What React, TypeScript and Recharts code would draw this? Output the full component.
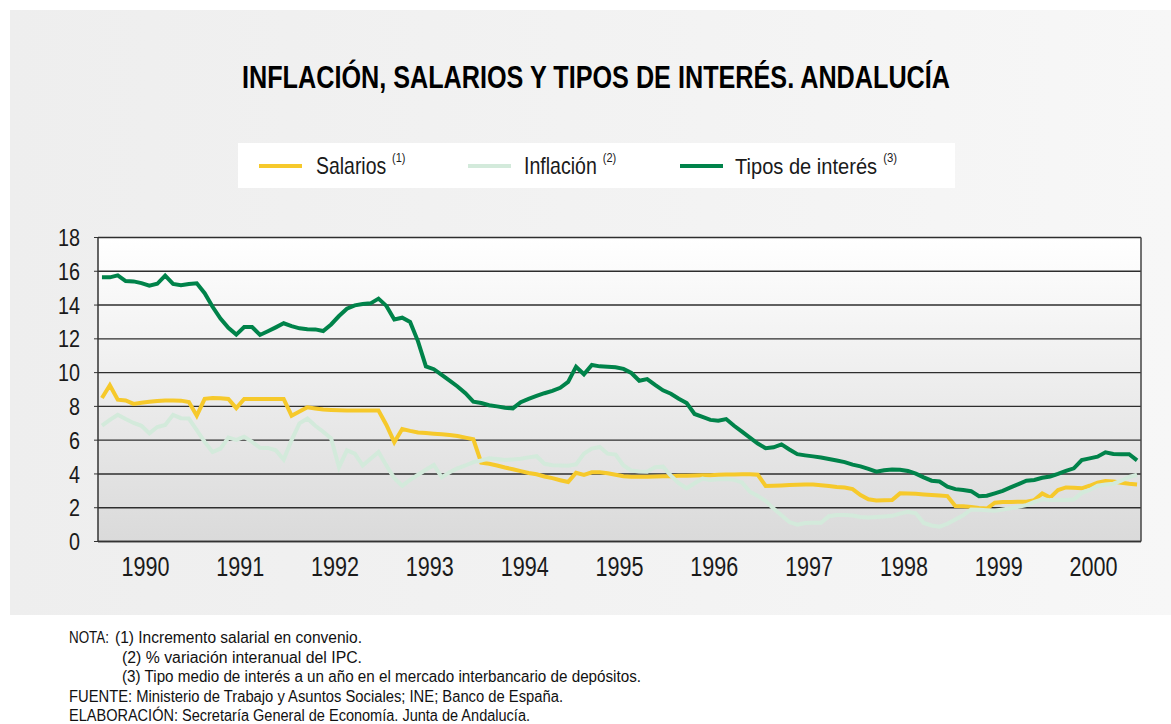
import React from 'react';
import { LineChart, Line, XAxis, YAxis, CartesianGrid, ReferenceLine } from 'recharts';

const years = ['1990', '1991', '1992', '1993', '1994', '1995', '1996', '1997', '1998', '1999', '2000'];
const yTicks = [0, 2, 4, 6, 8, 10, 12, 14, 16, 18];

const salarios = [
  8.5, 9.25, 8.4, 8.35, 8.15, 8.22, 8.28, 8.32, 8.35, 8.35, 8.34, 8.26,
  7.45, 8.45, 8.5, 8.48, 8.44, 7.9, 8.44, 8.44, 8.44, 8.44, 8.44, 8.44,
  7.45, 7.7, 7.95, 7.88, 7.82, 7.79, 7.77, 7.76, 7.75, 7.75, 7.75, 7.75,
  6.9, 5.88, 6.66, 6.55, 6.46, 6.42, 6.38, 6.35, 6.3, 6.25, 6.15, 6.05,
  4.67, 4.6, 4.5, 4.38, 4.28, 4.17, 4.06, 3.98, 3.85, 3.75, 3.63, 3.52,
  4.07, 3.94, 4.1, 4.1, 4.04, 3.95, 3.86, 3.84, 3.84, 3.84, 3.85, 3.86,
  3.87, 3.89, 3.9, 3.91, 3.92, 3.93, 3.95, 3.96, 3.97, 3.98, 3.98, 3.95,
  3.29, 3.3, 3.32, 3.34, 3.36, 3.38, 3.37, 3.33, 3.28, 3.23, 3.2, 3.1,
  2.75, 2.5, 2.43, 2.44, 2.46, 2.85, 2.84, 2.82, 2.79, 2.76, 2.72, 2.69,
  2.1, 2.08, 2.05, 1.98, 1.95, 2.3, 2.34, 2.34, 2.35, 2.35, 2.45, 2.85,
  2.6, 3.05, 3.2, 3.18, 3.15, 3.3, 3.48, 3.58, 3.55, 3.48, 3.42, 3.38,
];

const inflacion = [
  6.86, 7.2, 7.5, 7.25, 7.02, 6.85, 6.4, 6.78, 6.9, 7.5, 7.3, 7.28,
  6.6, 5.9, 5.3, 5.5, 6.15, 6.02, 6.2, 5.9, 5.55, 5.54, 5.4, 4.85,
  6.0, 7.0, 7.28, 6.85, 6.5, 6.1, 4.4, 5.4, 5.2, 4.5, 4.9, 5.3,
  4.5, 3.75, 3.3, 3.65, 3.95, 4.25, 4.53, 3.8, 4.1, 4.33, 4.5, 4.7,
  4.8, 4.93, 4.88, 4.83, 4.86, 4.9, 4.98, 5.05, 4.6, 4.52, 4.5, 4.49,
  4.57, 5.2, 5.5, 5.6, 5.2, 5.15, 4.5, 4.2, 4.15, 4.13, 4.4, 4.43,
  3.9, 3.45, 3.15, 3.45, 3.72, 3.64, 3.68, 3.7, 3.65, 3.5, 2.95, 2.7,
  2.4, 1.95, 1.55, 1.15, 1.0, 1.1, 1.11, 1.11, 1.5, 1.57, 1.57, 1.54,
  1.45, 1.42, 1.45, 1.48, 1.52, 1.65, 1.76, 1.67, 1.1, 0.95, 0.88, 1.05,
  1.3, 1.55, 1.9, 1.88, 1.85, 1.82, 1.9, 1.97, 2.05, 2.15, 2.35, 2.5,
  2.45, 2.45, 2.46, 2.48, 2.88, 3.05, 3.3, 3.38, 3.42, 3.6, 3.82, 3.95,
];

const tipos = [
  15.64, 15.64, 15.76, 15.42, 15.4, 15.3, 15.15, 15.26, 15.74, 15.25, 15.17, 15.25,
  15.29, 14.7, 13.9, 13.2, 12.65, 12.25, 12.7, 12.7, 12.23, 12.45, 12.68, 12.92,
  12.75, 12.62, 12.57, 12.56, 12.46, 12.85, 13.35, 13.78, 13.98, 14.06, 14.1, 14.38,
  13.95, 13.15, 13.25, 13.0, 11.85, 10.37, 10.2, 9.86, 9.52, 9.18, 8.78, 8.28,
  8.2, 8.07, 8.0, 7.92, 7.88, 8.25, 8.45, 8.62, 8.78, 8.92, 9.1, 9.45,
  10.35, 9.9, 10.45, 10.37, 10.34, 10.32, 10.22, 9.98, 9.52, 9.62, 9.27, 8.95,
  8.75, 8.45, 8.2, 7.55, 7.38, 7.2, 7.15, 7.25, 6.85, 6.5, 6.15, 5.8,
  5.52, 5.58, 5.75, 5.45, 5.17, 5.1, 5.04, 4.97, 4.88, 4.8, 4.7, 4.55,
  4.45, 4.3, 4.13, 4.22, 4.26, 4.25, 4.18, 4.02, 3.8, 3.6, 3.55, 3.25,
  3.1, 3.05, 2.98, 2.68, 2.71, 2.85, 3.0, 3.2, 3.4, 3.6, 3.64, 3.77,
  3.85, 4.0, 4.18, 4.33, 4.82, 4.92, 5.02, 5.28, 5.18, 5.17, 5.17, 4.8,
];

const seriesNames = ['Salarios', 'Inflación', 'Tipos de interés'];
const seriesNotes = ['(1)', '(2)', '(3)'];
const colors = ['#F6C92B', '#D3EADB', '#00834A'];

const noteLines = [
  'NOTA:',
  '(1) Incremento salarial en convenio.',
  '(2) % variación interanual del IPC.',
  '(3) Tipo medio de interés a un año en el mercado interbancario de depósitos.',
  'FUENTE: Ministerio de Trabajo y Asuntos Sociales; INE; Banco de España.',
  'ELABORACIÓN: Secretaría General de Economía. Junta de Andalucía.',
];

const MONTHS = years.length * 12;
const data = salarios.map((s, i) => ({ m: i + 0.5, salarios: s, inflacion: inflacion[i], tipos: tipos[i] }));
const yearBounds = years.map((_, i) => i * 12).concat([MONTHS]);
const yearMids = years.map((_, i) => i * 12 + 6);

const FONT = "'Liberation Sans', Arial, sans-serif";

const YTick = (props: any) => {
  const { x, y, payload } = props;
  const s = String(payload.value);
  return (
    <text x={x} y={y} dy="0.36em" textAnchor="end" fontSize={24} fontFamily={FONT} fill="#1a1a1a"
      textLength={s.length * 11} lengthAdjust="spacingAndGlyphs">{s}</text>
  );
};

const XTick = (props: any) => {
  const { x, y, payload } = props;
  const s = years[Math.round((payload.value - 6) / 12)] ?? '';
  return (
    <text x={x} y={y} dy={28.5} textAnchor="middle" fontSize={27} fontFamily={FONT} fill="#1a1a1a"
      textLength={48} lengthAdjust="spacingAndGlyphs">{s}</text>
  );
};

export default function App() {
  return (
    <div style={{ position: 'absolute', left: 0, top: 0, width: 1171, height: 724, background: '#ffffff', overflow: 'hidden' }}>
      <div style={{ position: 'absolute', left: 10, top: 10, width: 1161, height: 605, background: 'linear-gradient(90deg, #eeeeee 0%, #f3f3f3 60%, #f7f7f7 100%)' }} />
      <div style={{ position: 'absolute', left: 0, top: 0 }}>
        <LineChart width={1171} height={724} data={data} margin={{ top: 237.5, right: 30, bottom: 136.5, left: 38 }}>
          <defs>
            <linearGradient id="plotGrad" x1="0" y1="0" x2="0" y2="1">
              <stop offset="0%" stopColor="#ffffff" />
              <stop offset="100%" stopColor="#dadada" />
            </linearGradient>
          </defs>
          <CartesianGrid vertical={false} stroke="#2e2e2e" strokeWidth={1.4} fill="url(#plotGrad)" fillOpacity={1} />
          <XAxis type="number" dataKey="m" domain={[0, MONTHS]} ticks={yearBounds} interval={0}
            height={6} tick={false} tickSize={5} axisLine={{ stroke: '#333', strokeWidth: 1.5 }} tickLine={{ stroke: '#333' }} />
          <XAxis xAxisId="lab" type="number" dataKey="m" domain={[0, MONTHS]} ticks={yearMids} interval={0}
            height={40} axisLine={false} tickLine={false} tickSize={0} tickMargin={0} tick={<XTick />} />
          <YAxis type="number" domain={[0, 18]} ticks={yTicks} interval={0} width={60} tickSize={4} tickMargin={14}
            axisLine={{ stroke: '#333', strokeWidth: 1.5 }} tickLine={{ stroke: '#333' }} tick={<YTick />} />
          <ReferenceLine x={MONTHS} stroke="#444" strokeWidth={1.5} ifOverflow="visible" />
          <Line type="linear" dataKey="salarios" name={seriesNames[0]} stroke={colors[0]} strokeWidth={4} dot={false} isAnimationActive={false} />
          <Line type="linear" dataKey="inflacion" name={seriesNames[1]} stroke={colors[1]} strokeWidth={4} dot={false} isAnimationActive={false} />
          <Line type="linear" dataKey="tipos" name={seriesNames[2]} stroke={colors[2]} strokeWidth={4} dot={false} isAnimationActive={false} />
        </LineChart>
      </div>
      <svg width={1171} height={724} style={{ position: 'absolute', left: 0, top: 0, pointerEvents: 'none' }}>
        <text x={596} y={88} textAnchor="middle" fontSize={31} fontWeight="bold" fontFamily={FONT} fill="#000"
          textLength={708} lengthAdjust="spacingAndGlyphs">INFLACIÓN, SALARIOS Y TIPOS DE INTERÉS. ANDALUCÍA</text>
        <rect x={238} y={143} width={717} height={45} fill="#ffffff" />
        {[
          { lx: 259, tx: 316, sc: 0.845 },
          { lx: 468, tx: 524, sc: 0.85 },
          { lx: 680, tx: 735, sc: 0.874 },
        ].map((p, i) => (
          <g key={i}>
            <line x1={p.lx} x2={p.lx + 43} y1={166} y2={166} stroke={colors[i]} strokeWidth={4} />
            <text transform={`translate(${p.tx},174) scale(${p.sc},1)`} fontSize={23} fontFamily={FONT} fill="#1a1a1a">
              {seriesNames[i]}
              <tspan dx={7} dy={-12} fontSize={13}>{seriesNotes[i]}</tspan>
            </text>
          </g>
        ))}
        {[
          { x: 69, y: 643, w: 40 },
          { x: 115, y: 643, w: 247 },
          { x: 122, y: 662.5, w: 240 },
          { x: 122, y: 682, w: 519 },
          { x: 69, y: 701.5, w: 494 },
          { x: 69, y: 721, w: 461 },
        ].map((p, i) => (
          <text key={i} x={p.x} y={p.y} fontSize={16} fontFamily={FONT} fill="#111" textLength={p.w} lengthAdjust="spacingAndGlyphs">{noteLines[i]}</text>
        ))}
      </svg>
    </div>
  );
}
